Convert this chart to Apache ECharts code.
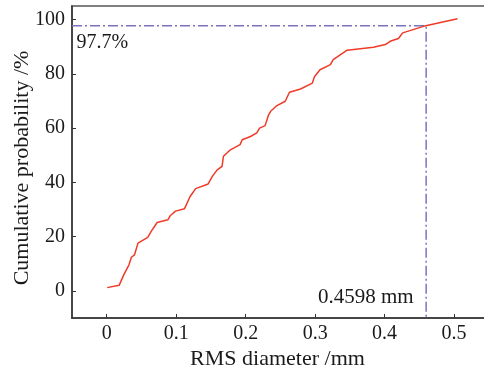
<!DOCTYPE html>
<html>
<head>
<meta charset="utf-8">
<script src="https://cdn.jsdelivr.net/npm/echarts@6/dist/echarts.min.js"></script>
<style>
  html, body { margin: 0; padding: 0; background: #fff; }
  #chart { width: 484px; height: 373px; }
</style>
</head>
<body>
<div id="chart"></div>
<script>
  // RMS diameter (mm) and cumulative probability (%)
  var diameter = [0.0006, 0.018, 0.0245, 0.032, 0.0355, 0.040, 0.045, 0.059, 0.064, 0.0725,
    0.088, 0.0917, 0.099, 0.112, 0.120, 0.128, 0.146, 0.152, 0.159, 0.166,
    0.168, 0.178, 0.192, 0.195, 0.207, 0.216, 0.220, 0.228, 0.233, 0.236,
    0.245, 0.257, 0.263, 0.279, 0.296, 0.299, 0.307, 0.322, 0.326, 0.346,
    0.384, 0.401, 0.408, 0.420, 0.426, 0.456, 0.505]
  var probability = [1.2, 2.1, 5.9, 9.6, 12.4, 13.3, 17.6, 19.7, 21.9, 25.2,
    26.2, 27.8, 29.4, 30.3, 34.8, 37.7, 39.4, 42.2, 44.6, 45.9,
    49.6, 52.0, 53.9, 55.7, 56.9, 58.2, 60.0, 60.9, 64.9, 66.2,
    68.3, 69.9, 73.2, 74.4, 76.6, 78.9, 81.5, 83.4, 85.2, 88.7,
    89.8, 90.8, 92.0, 93.0, 95.1, 97.5, 100.3]

  // guide lines marking the 97.7% point
  var guideX = [-0.05, 0.4598, 0.4598]
  var guideY = [97.7, 97.7, -10]
  var xTicks = [0, 0.1, 0.2, 0.3, 0.4, 0.5]
  var yTicks = [0, 20, 40, 60, 80, 100]

  var curve = diameter.map(function (d, i) { return [d, probability[i]] })
  var guide = guideX.map(function (d, i) { return [d, guideY[i]] })

  var font = 'Liberation Serif'
  var textColor = '#1a1a1a'
  var myChart = echarts.init(document.getElementById('chart'))
  myChart.setOption({
    animation: false,
    grid: {
      left: 72, right: -3, top: 6, bottom: 55,
      outerBoundsMode: 'none',
      show: true, borderColor: '#808080', borderWidth: 2
    },
    xAxis: {
      type: 'value',
      min: -0.05,
      max: 0.5474,
      splitLine: { show: false },
      axisLine: { onZero: false, lineStyle: { color: '#333', width: 1.5 } },
      axisTick: { inside: true, length: 4, lineStyle: { color: '#333' },
        customValues: xTicks },
      axisLabel: { color: textColor, fontFamily: font, fontSize: 20, margin: 6,
        customValues: xTicks, formatter: function (v) { return String(v) } },
      name: 'RMS diameter /mm',
      nameLocation: 'middle',
      nameGap: 30,
      nameMoveOverlap: false,
      nameTextStyle: { color: textColor, fontFamily: font, fontSize: 22, padding: [0, 4, 0, 0] }
    },
    yAxis: {
      type: 'value',
      min: -10,
      max: 105,
      splitLine: { show: false },
      axisLine: { onZero: false, lineStyle: { color: '#333', width: 1.5 } },
      axisTick: { inside: true, length: 4, lineStyle: { color: '#333' },
        customValues: yTicks },
      axisLabel: { color: textColor, fontFamily: font, fontSize: 20, margin: 7,
        customValues: yTicks },
      name: 'Cumulative probability /%',
      nameLocation: 'middle',
      nameGap: 39,
      nameMoveOverlap: false,
      nameTextStyle: { color: textColor, fontFamily: font, fontSize: 22, padding: [0, 0, 0, -12] }
    },
    series: [
      {
        type: 'line',
        data: guide,
        symbol: 'none',
        lineStyle: { color: '#7a72c2', width: 1.5, type: [10, 3, 2, 3] },
        z: 1
      },
      {
        type: 'line',
        data: curve,
        symbol: 'none',
        lineStyle: { color: '#f03a28', width: 1.5 },
        z: 2
      },
      {
        type: 'scatter',
        symbol: 'circle',
        symbolSize: 1,
        itemStyle: { color: 'rgba(0,0,0,0)' },
        silent: true,
        data: [
          { value: guide[0], label: { show: true, formatter: '97.7%', position: 'right',
            offset: [-1, 17], color: textColor, opacity: 1 } },
          { value: guide[2], label: { show: true, formatter: '0.4598 mm', position: 'left',
            offset: [-7, -21], fontSize: 21, color: textColor, opacity: 1 } }
        ],
        label: { color: textColor, fontFamily: font, fontSize: 20 },
        z: 3
      }
    ]
  })
</script>
</body>
</html>
